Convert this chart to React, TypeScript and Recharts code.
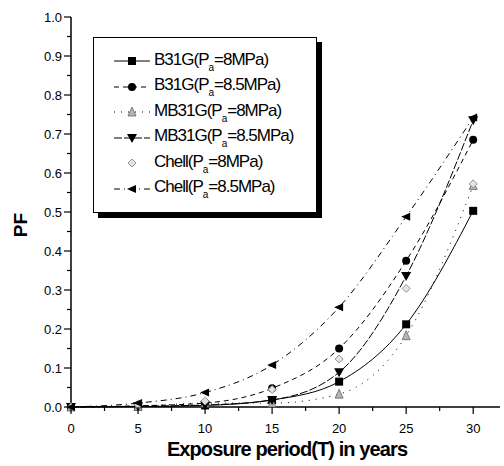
import React from 'react'
import { LineChart, Line, XAxis, YAxis } from 'recharts'

// exposure period (years) and failure probability per method / pressure
const years = [0, 5, 10, 15, 20, 25, 30]
const b31g8 = [0, 0.001, 0.004, 0.018, 0.065, 0.212, 0.503]
const b31g85 = [0, 0.003, 0.01, 0.048, 0.15, 0.375, 0.685]
const mb31g8 = [0, 0.002, 0.01, 0.01, 0.033, 0.183, 0.568]
const mb31g85 = [0, 0.002, 0.005, 0.018, 0.089, 0.336, 0.735]
const chell8 = [0, 0.006, 0.015, 0.045, 0.123, 0.304, 0.572]
const chell85 = [0, 0.01, 0.037, 0.108, 0.256, 0.488, 0.742]

const xTicks = [0, 2.5, 5, 7.5, 10, 12.5, 15, 17.5, 20, 22.5, 25, 27.5, 30]
const yTicks = [0, 0.05, 0.1, 0.15, 0.2, 0.25, 0.3, 0.35, 0.4, 0.45, 0.5, 0.55, 0.6, 0.65, 0.7, 0.75, 0.8, 0.85, 0.9, 0.95, 1.0]

type Shape = 'square' | 'circle' | 'triUp' | 'triDown' | 'diamond' | 'triLeft'

const series: { key: string; method: string; pa: string; values: number[]; shape: Shape; dash: string | null }[] = [
  { key: 'b31g8', method: 'B31G', pa: '8MPa', values: b31g8, shape: 'square', dash: '' },
  { key: 'b31g85', method: 'B31G', pa: '8.5MPa', values: b31g85, shape: 'circle', dash: '5 4' },
  { key: 'mb31g8', method: 'MB31G', pa: '8MPa', values: mb31g8, shape: 'triUp', dash: '1 6' },
  { key: 'mb31g85', method: 'MB31G', pa: '8.5MPa', values: mb31g85, shape: 'triDown', dash: '8 2' },
  { key: 'chell8', method: 'Chell', pa: '8MPa', values: chell8, shape: 'diamond', dash: null },
  { key: 'chell85', method: 'Chell', pa: '8.5MPa', values: chell85, shape: 'triLeft', dash: '6 4 1 4' },
]

const data = years.map((y, i) => {
  const row: Record<string, number> = { year: y }
  series.forEach((s) => (row[s.key] = s.values[i]))
  return row
})

const FONT = '"Liberation Sans", Arial, sans-serif'

function Marker({ shape, cx, cy }: { shape: Shape; cx: number; cy: number }) {
  const r = 4
  switch (shape) {
    case 'square':
      return <rect x={cx - r} y={cy - r} width={2 * r} height={2 * r} fill="#000" />
    case 'circle':
      return <circle cx={cx} cy={cy} r={r} fill="#000" />
    case 'triUp':
      return (
        <polygon
          points={`${cx},${cy - r - 1} ${cx + r},${cy + r} ${cx - r},${cy + r}`}
          fill="#b5b5b5"
          stroke="#666"
          strokeWidth={0.8}
        />
      )
    case 'triDown':
      return <polygon points={`${cx - r - 1},${cy - r} ${cx + r + 1},${cy - r} ${cx},${cy + r + 1}`} fill="#000" />
    case 'diamond':
      return (
        <polygon
          points={`${cx},${cy - r} ${cx + r},${cy} ${cx},${cy + r} ${cx - r},${cy}`}
          fill="#e4e4e4"
          stroke="#888"
          strokeWidth={0.9}
        />
      )
    case 'triLeft':
      return <polygon points={`${cx - r - 1},${cy} ${cx + r},${cy - r} ${cx + r},${cy + r}`} fill="#000" />
  }
  return null
}

function XTick(props: any) {
  const { x, y, payload } = props
  const v = payload.value as number
  const major = v % 5 === 0
  return (
    <g>
      <line x1={x} x2={x} y1={y} y2={y + (major ? 7 : 4)} stroke="#000" strokeWidth={1.2} />
      {major && (
        <text x={x} y={y + 26} textAnchor="middle" fontSize={13} fontFamily={FONT} fill="#000">
          {v}
        </text>
      )}
    </g>
  )
}

function YTick(props: any) {
  const { x, y, payload } = props
  const v = payload.value as number
  const major = Math.round(v * 100) % 10 === 0
  return (
    <g>
      <line x1={x} x2={x - (major ? 7 : 4)} y1={y} y2={y} stroke="#000" strokeWidth={1.2} />
      {major && (
        <text x={x - 9} y={y + 4.5} textAnchor="end" fontSize={13} fontFamily={FONT} fill="#000">
          {v.toFixed(1)}
        </text>
      )}
    </g>
  )
}

function LegendBox() {
  return (
    <div
      style={{
        position: 'absolute',
        left: 93,
        top: 37,
        width: 222,
        height: 174,
        border: '1px solid #000',
        boxShadow: '5px 5px 0 #000',
        background: '#fff',
        fontFamily: FONT,
        fontSize: 17,
        letterSpacing: -1,
      }}
    >
      {series.map((s, i) => (
        <div
          key={s.key}
          style={{ position: 'absolute', left: 18, top: 13 + i * 25.5, height: 20, display: 'flex', alignItems: 'center' }}
        >
          <svg width={40} height={20}>
            {s.dash !== null && (
              <line x1={2} x2={38} y1={10} y2={10} stroke="#000" strokeWidth={1} strokeDasharray={s.dash || undefined} />
            )}
            <Marker shape={s.shape} cx={20} cy={10} />
          </svg>
          <span style={{ marginLeft: 2, whiteSpace: 'nowrap' }}>
            {s.method}(P<sub style={{ fontSize: 10, verticalAlign: -6, letterSpacing: 0 }}>a</sub>={s.pa})
          </span>
        </div>
      ))}
    </div>
  )
}

export default function App() {
  return (
    <div style={{ position: 'absolute', left: 0, top: 0, width: 504, height: 466, background: '#fff' }}>
      <LineChart width={504} height={466} data={data} margin={{ top: 17, right: 4, bottom: 0, left: 21 }}>
        <XAxis
          dataKey="year"
          type="number"
          domain={[0, 32]}
          ticks={xTicks}
          interval={0}
          height={59}
          tickSize={0}
          tickMargin={0}
          tickLine={false}
          tick={<XTick />}
          axisLine={{ stroke: '#000', strokeWidth: 1.5 }}
        />
        <YAxis
          type="number"
          domain={[0, 1]}
          ticks={yTicks}
          interval={0}
          width={50}
          tickSize={0}
          tickMargin={0}
          tickLine={false}
          tick={<YTick />}
          axisLine={{ stroke: '#000', strokeWidth: 1.5 }}
        />
        {series.map((s) => (
          <Line
            key={s.key}
            dataKey={s.key}
            type="monotone"
            stroke={s.dash === null ? 'none' : '#000'}
            strokeWidth={1}
            strokeDasharray={s.dash || undefined}
            isAnimationActive={false}
            dot={(p: any) => <Marker key={`${s.key}-${p.index}`} shape={s.shape} cx={p.cx} cy={p.cy} />}
            activeDot={false}
          />
        ))}
        <text x={287} y={456} textAnchor="middle" fontSize={20} fontWeight="bold" fontFamily={FONT} letterSpacing={-0.9} fill="#000">
          Exposure period(T) in years
        </text>
        <text
          x={27}
          y={225}
          textAnchor="middle"
          fontSize={19}
          fontWeight="bold"
          fontFamily={FONT}
          fill="#000"
          transform="rotate(-90 27 225)"
        >
          PF
        </text>
      </LineChart>
      <LegendBox />
    </div>
  )
}
